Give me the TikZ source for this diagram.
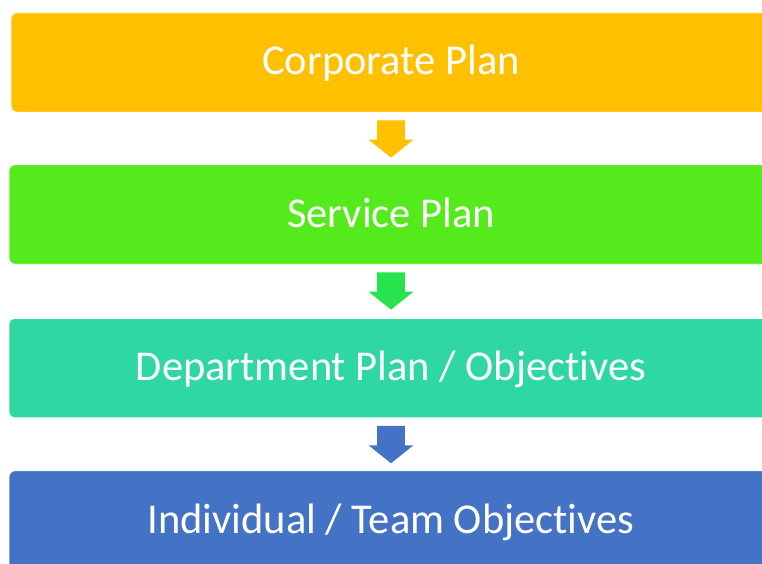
\documentclass[tikz,border=0pt]{standalone}
\usepackage{fontspec}
\setmainfont[Ligatures={NoCommon}]{Carlito}
\usetikzlibrary{calc}

\definecolor{corpOrange}{HTML}{FFC000}
\definecolor{servGreen}{HTML}{55EA1B}
\definecolor{arrowGreen}{HTML}{28E44C}
\definecolor{deptTeal}{HTML}{2FD7A2}
\definecolor{teamBlue}{HTML}{4472C4}

\tikzset{
  planbox/.style={rounded corners=6pt, draw=white, line width=0.8pt,
    minimum width=764pt, minimum height=99.5pt, inner sep=0pt,
    text=white, font=\fontsize{42.5}{46}\selectfont,
    text height=32.5pt, text depth=7.5pt},
}

% block arrow pointing down, hanging 7.7pt below the given box
\newcommand{\planarrow}[2]{%
  \fill[#2] ($(#1.south)+(-13.85,7.7)$) -- ++(27.7,0) -- ++(0,19.3)
    -- ++(8.65,0) -- ++(-22.5,18) -- ++(-22.5,-18) -- ++(8.65,0) -- cycle;}

\begin{document}
\begin{tikzpicture}[x=1pt, y=-1pt]
  \useasboundingbox (0,0) rectangle (762,563);
  \clip (0,0) rectangle (762,563);

  \node[planbox, fill=corpOrange, minimum width=760pt] (corp) at (391,62.4) {Corporate Plan};
  \node[planbox, fill=servGreen] (serv) at (391,214.5) {Service Plan};
  \node[planbox, fill=deptTeal] (dept) at (391,368.1) {Department Plan / Objectives};
  \node[planbox, fill=teamBlue] (team) at (391,520.5) {Individual / Team Objectives};

  \planarrow{corp}{corpOrange}
  \planarrow{serv}{arrowGreen}
  \planarrow{dept}{teamBlue}
\end{tikzpicture}
\end{document}
